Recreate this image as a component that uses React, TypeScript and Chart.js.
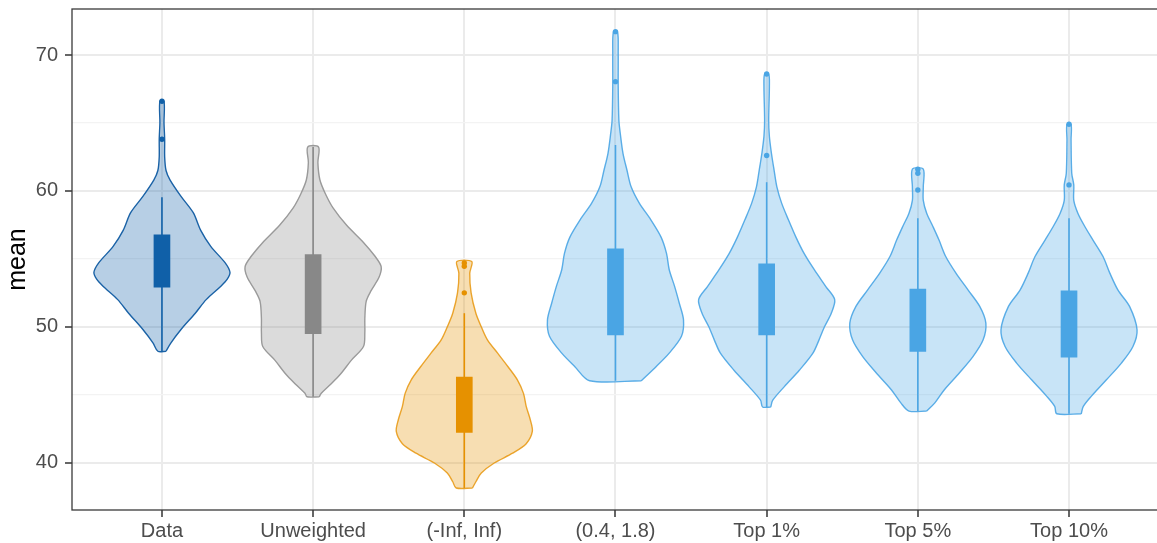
import React, { useEffect, useRef } from 'react';
import { Chart, registerables } from 'chart.js';

Chart.register(...registerables);

const categories = ['Data', 'Unweighted', '(-Inf, Inf)', '(0.4, 1.8)', 'Top 1%', 'Top 5%', 'Top 10%'];
const yTickValues = [40, 45, 50, 55, 60, 65, 70];

// Violin profiles: value levels (bottom -> top) and relative density (max = 1)
const dataLevels = [48.2, 48.8, 49.8, 51.0, 52.0, 53.0, 53.5, 54.0, 54.7, 55.9, 57.1, 58.4, 59.6, 60.8, 61.5, 62.5, 63.8, 65.0, 66.6];
const dataDensity = [0.06, 0.13, 0.28, 0.49, 0.65, 0.87, 0.96, 1.0, 0.93, 0.72, 0.57, 0.46, 0.28, 0.12, 0.06, 0.04, 0.04, 0.03, 0.03];

const unweightedLevels = [44.85, 45.11, 45.74, 46.51, 47.53, 48.55, 49.57, 50.6, 51.87, 52.64, 53.66, 54.43, 55.19, 56.21, 57.49, 58.77, 59.79, 60.8, 62.08, 63.23];
const unweightedDensity = [0.09, 0.12, 0.25, 0.4, 0.56, 0.74, 0.76, 0.76, 0.78, 0.85, 0.97, 1.0, 0.91, 0.74, 0.49, 0.29, 0.18, 0.1, 0.07, 0.08];

const infLevels = [38.14, 38.6, 39.24, 39.98, 40.7, 41.4, 42.3, 43.16, 44.14, 45.1, 46.1, 47.08, 48.06, 49.04, 50.0, 51.0, 52.5, 53.95, 54.8];
const infDensity = [0.12, 0.17, 0.25, 0.44, 0.71, 0.91, 1.0, 0.97, 0.91, 0.87, 0.78, 0.64, 0.49, 0.34, 0.25, 0.17, 0.1, 0.08, 0.11];

const rangeLevels = [46.03, 47.08, 48.06, 49.3, 50.5, 51.7, 52.96, 54.2, 55.4, 56.6, 57.87, 59.1, 60.3, 61.5, 62.77, 64.24, 65.2, 67.7, 70.1, 71.72];
const rangeDensity = [0.38, 0.6, 0.79, 0.97, 1.0, 0.94, 0.87, 0.79, 0.75, 0.67, 0.52, 0.35, 0.23, 0.17, 0.11, 0.07, 0.05, 0.04, 0.04, 0.03];

const top1Levels = [44.1, 44.6, 45.6, 46.8, 48.06, 49.04, 50.0, 51.0, 52.0, 52.96, 54.2, 55.4, 56.6, 57.87, 59.1, 60.3, 61.5, 62.77, 64.0, 65.2, 67.7, 68.6];
const top1Density = [0.06, 0.09, 0.26, 0.48, 0.68, 0.77, 0.85, 0.95, 1.0, 0.87, 0.7, 0.55, 0.43, 0.32, 0.22, 0.15, 0.11, 0.07, 0.04, 0.03, 0.04, 0.03];

const top5Levels = [43.8, 44.4, 45.37, 46.6, 47.8, 49.04, 50.27, 51.5, 52.7, 53.95, 55.17, 56.4, 57.4, 58.36, 59.3, 60.3, 61.6];
const top5Density = [0.13, 0.25, 0.39, 0.61, 0.81, 0.96, 1.0, 0.91, 0.74, 0.56, 0.41, 0.31, 0.22, 0.13, 0.08, 0.08, 0.08];

const top10Levels = [43.6, 44.14, 44.9, 46.1, 47.33, 48.55, 49.78, 51.5, 52.7, 53.95, 55.17, 56.4, 57.4, 58.36, 59.3, 60.44, 61.3, 63.75, 64.9];
const top10Density = [0.18, 0.21, 0.33, 0.55, 0.77, 0.94, 1.0, 0.89, 0.72, 0.6, 0.5, 0.35, 0.23, 0.13, 0.07, 0.07, 0.04, 0.03, 0.03];

// Box plot statistics
const boxLow = [52.92, 49.5, 42.23, 49.41, 49.41, 48.19, 47.77];
const boxHigh = [56.76, 55.32, 46.3, 55.74, 54.63, 52.77, 52.65];
const whiskerLow = [48.2, 44.85, 38.14, 46.03, 44.1, 43.8, 43.6];
const whiskerHigh = [59.54, 63.23, 51.0, 63.38, 60.64, 57.99, 57.99];

const dataOutliers = [66.6, 63.8];
const unweightedOutliers: number[] = [];
const infOutliers = [54.7, 54.45, 52.5];
const rangeOutliers = [71.72, 68.04];
const top1Outliers = [68.6, 62.6];
const top5Outliers = [61.6, 61.3, 60.07];
const top10Outliers = [64.9, 60.44];

const boxColors = ['#1060a8', '#888888', '#e69100', '#4aa5e4', '#4aa5e4', '#4aa5e4', '#4aa5e4'];
const outlineColors = ['#1a62a6', '#9a9a9a', 'rgba(230,145,0,0.8)', 'rgba(74,165,228,0.9)', 'rgba(74,165,228,0.9)', 'rgba(74,165,228,0.9)', 'rgba(74,165,228,0.9)'];
const fillColors = ['rgba(16,96,168,0.3)', 'rgba(136,136,136,0.3)', 'rgba(230,145,0,0.3)', 'rgba(74,165,228,0.3)', 'rgba(74,165,228,0.3)', 'rgba(74,165,228,0.3)', 'rgba(74,165,228,0.3)'];

const FONT = '"Liberation Sans", Arial, Helvetica, sans-serif';
const HALF_WIDTH = 0.45;

export default function App() {
  const ref = useRef<HTMLCanvasElement | null>(null);

  useEffect(() => {
    if (!ref.current) return;
    const levels = [dataLevels, unweightedLevels, infLevels, rangeLevels, top1Levels, top5Levels, top10Levels];
    const dens = [dataDensity, unweightedDensity, infDensity, rangeDensity, top1Density, top5Density, top10Density];
    const outliers = [dataOutliers, unweightedOutliers, infOutliers, rangeOutliers, top1Outliers, top5Outliers, top10Outliers];

    const datasets: any[] = [];
    categories.forEach((_, i) => {
      const right = levels[i].map((y, k) => ({ x: i + HALF_WIDTH * dens[i][k], y }));
      const left = levels[i].map((y, k) => ({ x: i - HALF_WIDTH * dens[i][k], y })).reverse();
      datasets.push({
        type: 'scatter',
        data: [...right, ...left, right[0]],
        showLine: true,
        fill: 'shape',
        backgroundColor: fillColors[i],
        borderColor: outlineColors[i],
        borderWidth: 1.4,
        pointRadius: 0,
        tension: 0.3,
        order: 5,
      });
      datasets.push({
        type: 'scatter',
        data: [{ x: i, y: whiskerLow[i] }, { x: i, y: whiskerHigh[i] }],
        showLine: true,
        fill: false,
        borderColor: boxColors[i],
        borderWidth: 1.6,
        pointRadius: 0,
        order: 4,
      });
      datasets.push({
        type: 'scatter',
        data: outliers[i].map((y) => ({ x: i, y })),
        showLine: false,
        pointRadius: 2.7,
        pointBorderWidth: 0,
        backgroundColor: boxColors[i],
        order: 1,
      });
    });
    datasets.push({
      type: 'bar',
      data: categories.map((_, i) => ({ x: i, y: [boxLow[i], boxHigh[i]] })),
      backgroundColor: boxColors,
      borderWidth: 0,
      barThickness: 16,
      order: 2,
    });

    const border = {
      id: 'panelBorder',
      afterDraw(chart: any) {
        const { ctx, chartArea } = chart;
        ctx.save();
        ctx.strokeStyle = '#3a3a3a';
        ctx.lineWidth = 1.3;
        ctx.strokeRect(chartArea.left, chartArea.top, chartArea.right - chartArea.left + 10, chartArea.bottom - chartArea.top);
        ctx.restore();
      },
    };

    const chart = new Chart(ref.current, {
      type: 'scatter',
      data: { datasets },
      options: {
        animation: false,
        responsive: false,
        devicePixelRatio: 1,
        events: [],
        layout: { autoPadding: false, padding: { top: 9, left: 0, right: 0, bottom: 0 } },
        plugins: { legend: { display: false }, tooltip: { enabled: false } },
        scales: {
          x: {
            type: 'linear',
            min: -0.595,
            max: 6.582,
            offset: false,
            afterBuildTicks: (s: any) => {
              s.ticks = categories.map((_, i) => ({ value: i }));
            },
            afterFit: (s: any) => {
              s.height = 33;
              s.paddingLeft = 0;
              s.paddingRight = 0;
              s.paddingTop = 0;
              s.paddingBottom = 0;
            },
            ticks: {
              callback: (v: any) => categories[v as number],
              color: '#4d4d4d',
              font: { family: FONT, size: 20 },
              padding: 2,
              autoSkip: false,
              maxRotation: 0,
            },
            grid: { offset: false, color: '#ebebeb', lineWidth: 2, tickColor: '#333333', tickLength: 7, tickWidth: 1.5 },
            border: { display: false },
          },
          y: {
            type: 'linear',
            min: 36.52,
            max: 73.385,
            offset: false,
            beginAtZero: false,
            afterBuildTicks: (s: any) => {
              s.ticks = yTickValues.map((v) => ({ value: v }));
            },
            afterFit: (s: any) => {
              s.width = 72;
              s.paddingLeft = 0;
              s.paddingRight = 0;
              s.paddingTop = 0;
              s.paddingBottom = 0;
            },
            ticks: {
              callback: (v: any) => (v % 10 === 0 ? String(v) : ''),
              color: '#4d4d4d',
              font: { family: FONT, size: 20 },
              padding: 7,
            },
            grid: {
              offset: false,
              color: (c: any) => (c.tick && c.tick.value % 10 === 0 ? '#ebebeb' : '#f3f3f3'),
              lineWidth: (c: any) => (c.tick && c.tick.value % 10 === 0 ? 2 : 1.2),
              tickColor: (c: any) => (c.tick && c.tick.value % 10 === 0 ? '#333333' : 'rgba(0,0,0,0)'),
              tickLength: 7,
              tickWidth: 1.5,
            },
            border: { display: false },
            title: {
              display: true,
              text: 'mean',
              color: '#000000',
              font: { family: FONT, size: 25 },
              padding: { top: 3, bottom: 0 },
            },
          },
        },
      } as any,
      plugins: [border],
    });
    return () => chart.destroy();
  }, []);

  return (
    <div style={{ position: 'fixed', left: 0, top: 0, width: 1157, height: 543, background: '#ffffff' }}>
      <canvas ref={ref} width={1157} height={543} style={{ display: 'block', width: 1157, height: 543 }} />
    </div>
  );
}
